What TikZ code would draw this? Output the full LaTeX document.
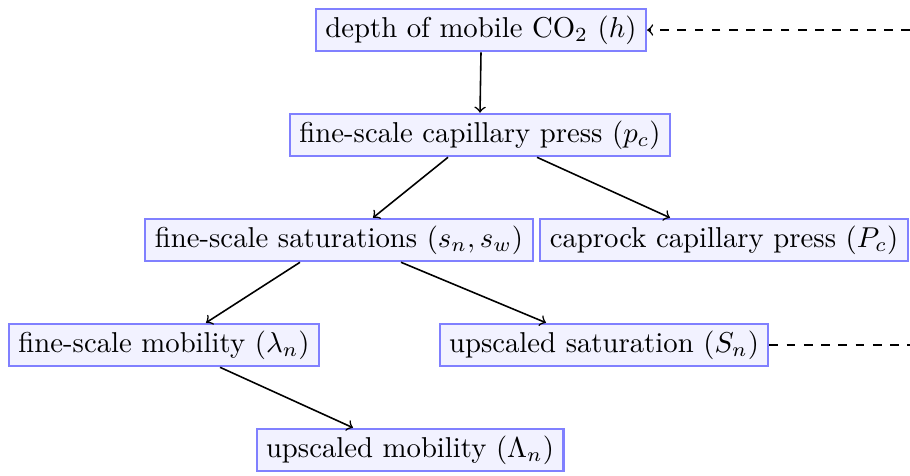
\documentclass[tikz,border=0pt]{standalone}
\usetikzlibrary{arrows}
\def\pu{0.348pt}
\begin{document}
\begin{tikzpicture}[x=\pu,y=-\pu,
  box/.style={draw=blue!50,fill=blue!5,line width=0.7pt,inner xsep=3.3pt,inner ysep=2.4pt},
  link/.style={->,black,line width=0.55pt},
  dlink/.style={dashed,black,line width=0.55pt}]
\useasboundingbox (0,0) rectangle (910,475);
\node[box] (h) at (481,30) {depth of mobile CO$_2$ ($h$)};
\node[box] (pc) at (480,135) {fine-scale capillary press ($p_c$)};
\node[box] (s) at (339,240) {fine-scale saturations ($s_n,s_w$)};
\node[box] (Pc) at (724,240) {caprock capillary press ($P_c$)};
\node[box] (lam) at (164,345) {fine-scale mobility ($\lambda_n$)};
\node[box] (Sn) at (604,345) {upscaled saturation ($S_n$)};
\node[box] (Lam) at (410,450) {upscaled mobility ($\Lambda_n$)};
\coordinate (r1) at (910,30);
\coordinate (r2) at (910,345);
\draw[link] (h.south) -- (pc.north);
\draw[link] ([xshift=-32*\pu]pc.south) -- ([xshift=34*\pu]s.north);
\draw[link] ([xshift=57*\pu]pc.south) -- ([xshift=-54*\pu]Pc.north);
\draw[link] ([xshift=-39*\pu]s.south) -- ([xshift=42*\pu]lam.north);
\draw[link] ([xshift=62*\pu]s.south) -- ([xshift=-58*\pu]Sn.north);
\draw[link] ([xshift=56*\pu]lam.south) -- ([xshift=-57*\pu]Lam.north);
\draw[dlink,->] (r1) -- (h.east);
\draw[dlink] (Sn.east) -- (r2);
\end{tikzpicture}
\end{document}
